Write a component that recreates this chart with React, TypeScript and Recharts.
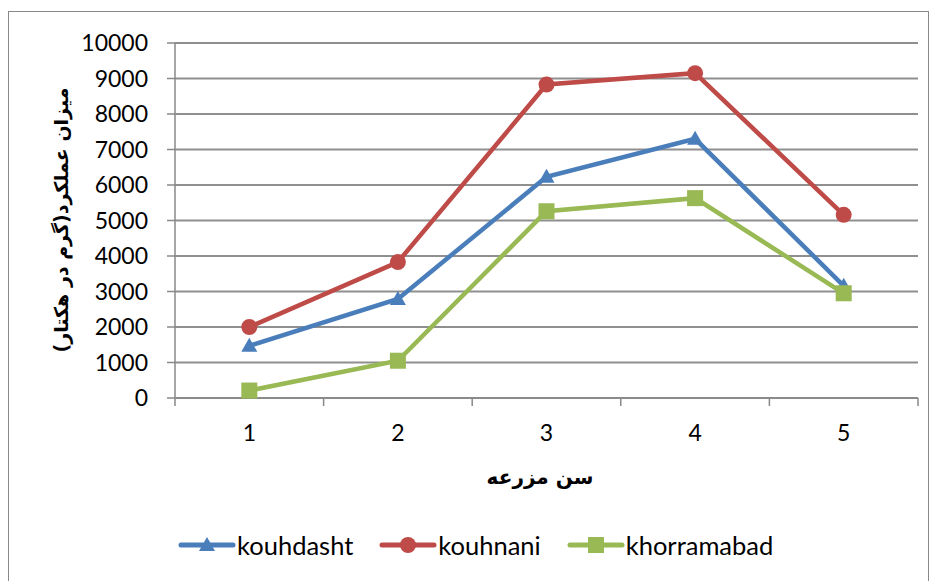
import React from "react";
import { LineChart, Line, XAxis, YAxis, CartesianGrid } from "recharts";

const categories = [1, 2, 3, 4, 5];
const kouhdasht = [1470, 2790, 6230, 7300, 3160];
const kouhnani = [2000, 3830, 8830, 9150, 5160];
const khorramabad = [210, 1050, 5260, 5630, 2950];
const yTicks = [0, 1000, 2000, 3000, 4000, 5000, 6000, 7000, 8000, 9000, 10000];
const xTicks = [0.5, 1, 1.5, 2, 2.5, 3, 3.5, 4, 4.5, 5, 5.5];

const data = categories.map((c, i) => ({
  x: c,
  kouhdasht: kouhdasht[i],
  kouhnani: kouhnani[i],
  khorramabad: khorramabad[i],
}));

const BLUE = "#4A7EBB";
const RED = "#BE4B48";
const GREEN = "#98B954";
const FONT = "Lato, 'Open Sans', sans-serif";

const Triangle = ({ cx, cy, color }: any) => (
  <polygon points={`${cx},${cy - 8} ${cx - 8},${cy + 6} ${cx + 8},${cy + 6}`} fill={color} />
);
const Square = ({ cx, cy, color }: any) => (
  <rect x={cx - 8} y={cy - 8} width={16} height={16} fill={color} />
);
const Dot = ({ cx, cy, color }: any) => <circle cx={cx} cy={cy} r={8} fill={color} />;

const XTick = ({ x, y, payload }: any) => {
  const v = payload.value;
  if (v % 1 !== 0) {
    return <line x1={x} y1={y} x2={x} y2={y + 8} stroke="#888" strokeWidth={1.5} />;
  }
  return (
    <text x={x} y={y + 43} textAnchor="middle" fontSize={23} fontFamily={FONT} fill="#000">
      {v}
    </text>
  );
};

const legendItems = [
  { name: "kouhdasht", color: BLUE, shape: "tri" },
  { name: "kouhnani", color: RED, shape: "dot" },
  { name: "khorramabad", color: GREEN, shape: "sq" },
];

const LegendBox = () => (
  <div
    style={{
      position: "absolute",
      left: 178,
      top: 530,
      display: "flex",
      gap: 26,
      fontFamily: FONT,
      fontSize: 25.5,
      lineHeight: "30px",
    }}
  >
    {legendItems.map((it) => (
      <div key={it.name} style={{ display: "flex", alignItems: "center" }}>
        <svg width={58} height={30}>
          <line x1={3} y1={15} x2={55} y2={15} stroke={it.color} strokeWidth={5} strokeLinecap="round" />
          {it.shape === "tri" && <Triangle cx={29} cy={15} color={it.color} />}
          {it.shape === "dot" && <Dot cx={29} cy={15} color={it.color} />}
          {it.shape === "sq" && <Square cx={29} cy={15} color={it.color} />}
        </svg>
        <span style={{ marginLeft: 1 }}>{it.name}</span>
      </div>
    ))}
  </div>
);

export default function App() {
  return (
    <div style={{ position: "absolute", left: 0, top: 0, width: 934, height: 581, background: "#fff", overflow: "hidden" }}>
      <div
        style={{
          position: "absolute",
          left: 8,
          top: 11,
          width: 919,
          height: 600,
          border: "1.5px solid #888",
        }}
      />
      <LineChart
        width={934}
        height={581}
        data={data}
        margin={{ top: 43, right: 16, bottom: 0, left: 0 }}
        style={{ position: "absolute", left: 0, top: 0 }}
      >
        <CartesianGrid vertical={false} stroke="#8f8f8f" strokeWidth={1.8} />
        <XAxis
          dataKey="x"
          type="number"
          domain={[0.5, 5.5]}
          ticks={xTicks}
          interval={0}
          tickSize={0}
          tickMargin={0}
          tickLine={false}
          tick={<XTick />}
          stroke="#888"
          strokeWidth={1.5}
          height={183}
        />
        <YAxis
          domain={[0, 10000]}
          ticks={yTicks}
          interval={0}
          width={175}
          tickSize={8}
          tickMargin={19}
          stroke="#888"
          strokeWidth={1.5}
          tick={{ fontSize: 23, fontFamily: FONT, fill: "#000" }}
        />
        <Line
          dataKey="kouhdasht"
          stroke={BLUE}
          strokeWidth={4.5}
          isAnimationActive={false}
          dot={(p: any) => <Triangle key={p.index} cx={p.cx} cy={p.cy} color={BLUE} />}
        />
        <Line
          dataKey="kouhnani"
          stroke={RED}
          strokeWidth={4.5}
          isAnimationActive={false}
          dot={(p: any) => <Dot key={p.index} cx={p.cx} cy={p.cy} color={RED} />}
        />
        <Line
          dataKey="khorramabad"
          stroke={GREEN}
          strokeWidth={4.5}
          isAnimationActive={false}
          dot={(p: any) => <Square key={p.index} cx={p.cx} cy={p.cy} color={GREEN} />}
        />
        <text
          x={540}
          y={484}
          textAnchor="middle"
          fontSize={20}
          fontWeight="bold"
          fontFamily="'DejaVu Sans', sans-serif"
          direction="rtl"
        >
          سن مزرعه
        </text>
        <text
          x={68}
          y={220}
          textAnchor="middle"
          fontSize={19}
          fontWeight="bold"
          fontFamily="'DejaVu Sans', sans-serif"
          direction="rtl"
          transform="rotate(-90 68 220)"
        >
          میزان عملکرد(گرم در هکتار)
        </text>
      </LineChart>
      <LegendBox />
    </div>
  );
}
